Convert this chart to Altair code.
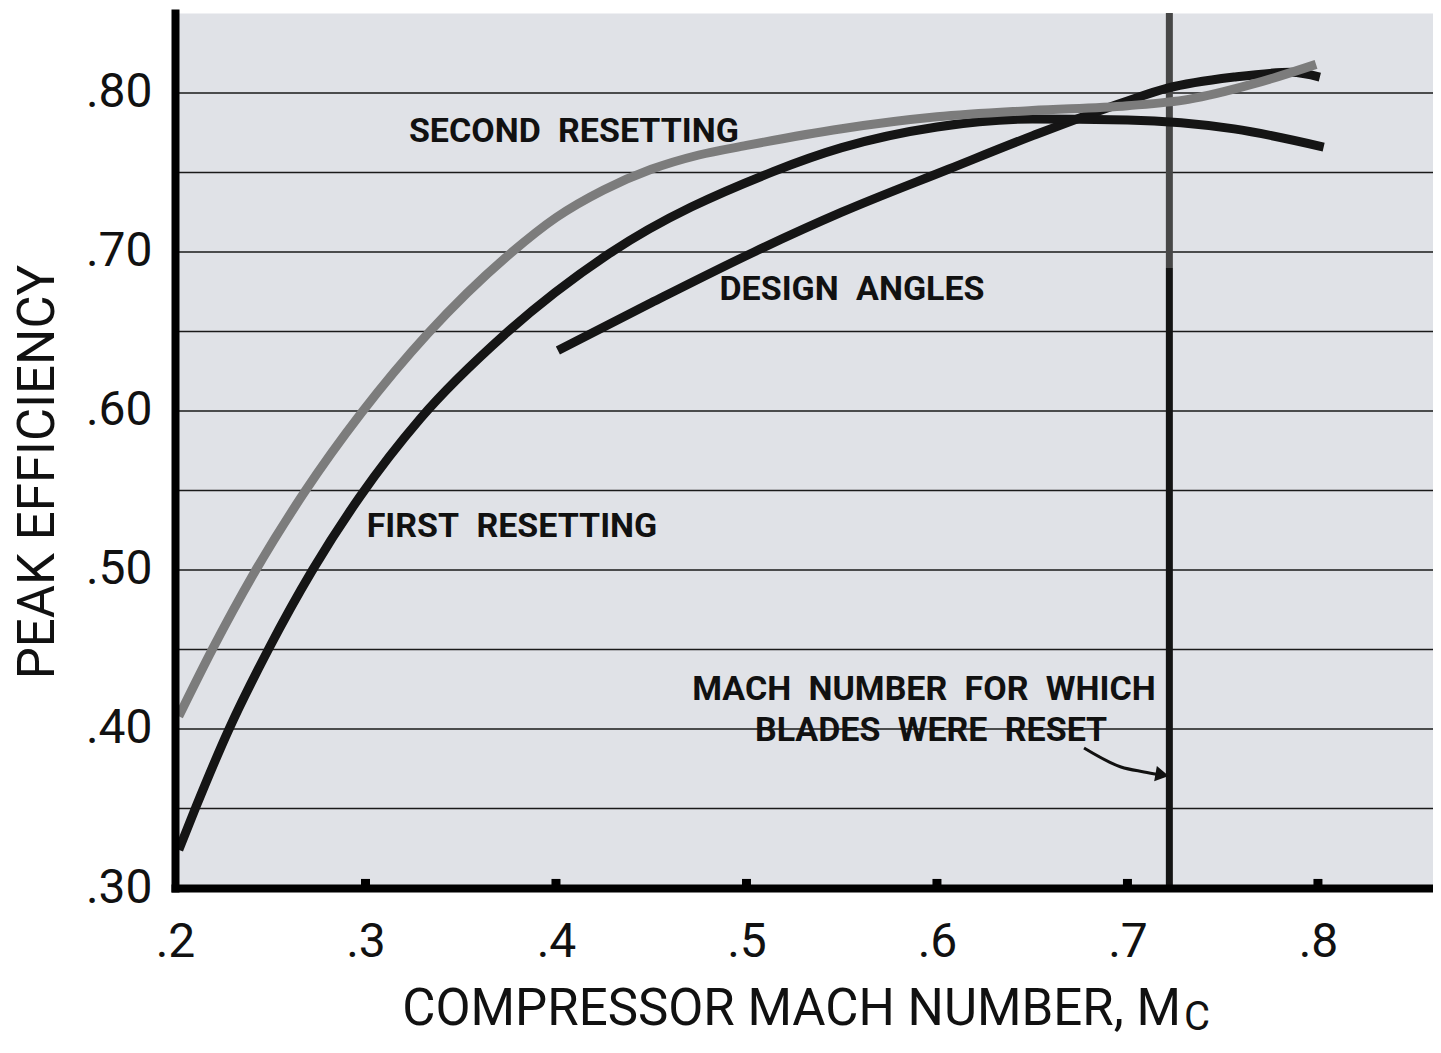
import altair as alt
import pandas as pd

# ---- data ----
second_x = [0.202, 0.220, 0.241, 0.268, 0.298, 0.333, 0.376, 0.400, 0.425, 0.450, 0.475, 0.500,
            0.550, 0.600, 0.650, 0.700, 0.732, 0.767, 0.799]
second_y = [0.408, 0.451, 0.497, 0.549, 0.599, 0.649, 0.699, 0.7216, 0.739, 0.752, 0.761, 0.767,
            0.7775, 0.785, 0.789, 0.792, 0.796, 0.806, 0.818]

first_x = [0.202, 0.211, 0.228, 0.249, 0.272, 0.297, 0.329, 0.373, 0.428, 0.514, 0.550, 0.600,
           0.650, 0.700, 0.756, 0.803]
first_y = [0.324, 0.351, 0.399, 0.450, 0.4996, 0.546, 0.5955, 0.648, 0.699, 0.7505, 0.7656, 0.7786,
           0.7836, 0.783, 0.7774, 0.766]

design_x = [0.401, 0.450, 0.504, 0.550, 0.606, 0.650, 0.700, 0.721, 0.756, 0.786, 0.801]
design_y = [0.638, 0.668, 0.700, 0.725, 0.752, 0.773, 0.795, 0.803, 0.810, 0.813, 0.810]

reset_mach = 0.722
grid_values = [0.35, 0.40, 0.45, 0.50, 0.55, 0.60, 0.65, 0.70, 0.75, 0.80]
x_ticks = [0.2, 0.3, 0.4, 0.5, 0.6, 0.7, 0.8]
x_stub_ticks = [0.3, 0.4, 0.5, 0.6, 0.7, 0.8]
y_ticks = [0.30, 0.40, 0.50, 0.60, 0.70, 0.80]

SP = "\u2002"
label_text = ["SECOND" + SP + "RESETTING", "DESIGN" + SP + "ANGLES", "FIRST" + SP + "RESETTING",
              "MACH" + SP + "NUMBER" + SP + "FOR" + SP + "WHICH",
              "BLADES" + SP + "WERE" + SP + "RESET"]
label_x = [0.4094, 0.5554, 0.3769, 0.5932, 0.5969]
label_y = [0.7755, 0.6761, 0.5270, 0.4245, 0.3987]

arrow_x = [0.6772, 0.6966, 0.7087, 0.7170]
arrow_y = [0.3880, 0.3761, 0.3730, 0.3712]

x_title = "COMPRESSOR MACH NUMBER, M"
x_title_sub = "C"
y_title = "PEAK EFFICIENCY"

X_DOM = [0.2, 0.8604]
Y_DOM = [0.30, 0.8503]

FONT = "Roboto"

# ---- tables ----
curves = pd.concat([
    pd.DataFrame({"x": design_x, "y": design_y, "s": "design"}),
    pd.DataFrame({"x": first_x, "y": first_y, "s": "first"}),
])
second = pd.DataFrame({"x": second_x, "y": second_y})
grid = pd.DataFrame({"y": grid_values})
stubs = pd.DataFrame({"x": x_stub_ticks, "y": [Y_DOM[0]] * len(x_stub_ticks),
                      "y2": [Y_DOM[0] + 0.0057] * len(x_stub_ticks)})
labels = pd.DataFrame({"t": label_text, "x": label_x, "y": label_y})
arrow = pd.DataFrame({"x": arrow_x, "y": arrow_y})
arrow_head = pd.DataFrame({"x": [arrow_x[-1] + 0.0012], "y": [arrow_y[-1]]})
vline_lo = pd.DataFrame({"x": [reset_mach], "y": [Y_DOM[0]], "y2": [0.69]})
vline_hi = pd.DataFrame({"x": [reset_mach], "y": [0.69], "y2": [Y_DOM[1]]})
xt = pd.DataFrame({"t": [x_title], "x": [0.7281], "y": [0.2233]})
xs = pd.DataFrame({"t": [x_title_sub], "x": [0.7297], "y": [0.2182]})
yt = pd.DataFrame({"t": [y_title], "x": [0.1288], "y": [0.5616]})

xscale = alt.Scale(domain=X_DOM, nice=False, zero=False)
yscale = alt.Scale(domain=Y_DOM, nice=False, zero=False)

x_axis = alt.Axis(values=x_ticks, labelExpr="replace(format(datum.value, '.1f'), '0.', '.')",
                  title="", grid=False, ticks=False, tickSize=0, domainColor="#000",
                  domainWidth=8, domainCap="square", labelFont=FONT, labelFontSize=48,
                  labelColor="#111", labelPadding=30, labelFlush=False,
                  labelOverlap=False, zindex=1)
y_axis = alt.Axis(values=y_ticks, labelExpr="replace(format(datum.value, '.2f'), '0.', '.')",
                  title="", grid=False, ticks=False, tickSize=0, domainColor="#000",
                  domainWidth=8, domainCap="square", labelFont=FONT, labelFontSize=48,
                  labelColor="#111", labelPadding=23, labelFlush=False,
                  labelOverlap=False, zindex=1)


def X(f="x"):
    return alt.X(f"{f}:Q", scale=xscale, axis=x_axis)


def Y(f="y"):
    return alt.Y(f"{f}:Q", scale=yscale, axis=y_axis)


grid_layer = alt.Chart(grid).mark_rule(color="#1a1a1a", strokeWidth=1.6).encode(
    y=Y(), x=alt.value(0), x2=alt.value(1258))

vlo = alt.Chart(vline_lo).mark_rule(color="#141414", strokeWidth=7).encode(
    x=X(), y=Y(), y2="y2:Q")
vhi = alt.Chart(vline_hi).mark_rule(color="#474747", strokeWidth=7).encode(
    x=X(), y=Y(), y2="y2:Q")

black_curves = alt.Chart(curves).mark_line(
    color="#151515", strokeWidth=9, interpolate="monotone", strokeCap="butt").encode(
    x=X(), y=Y(), detail="s:N", order="x:Q")

gray_curve = alt.Chart(second).mark_line(
    color="#7c7c7c", strokeWidth=9, interpolate="monotone", strokeCap="butt").encode(
    x=X(), y=Y(), order="x:Q")

stub_layer = alt.Chart(stubs).mark_rule(color="#000", strokeWidth=9).encode(
    x=X(), y=Y(), y2="y2:Q")

label_layer = alt.Chart(labels).mark_text(
    font=FONT, fontWeight="bold", fontSize=34, align="center", baseline="middle",
    color="#111").encode(x=X(), y=Y(), text="t:N")

arrow_line = alt.Chart(arrow).mark_line(color="#111", strokeWidth=3,
                                        interpolate="monotone").encode(
    x=X(), y=Y(), order="x:Q")
arrow_tip = alt.Chart(arrow_head).mark_point(
    shape="triangle-right", filled=True, color="#111", size=240, opacity=1,
    angle=10).encode(x=X(), y=Y())

xt_layer = alt.Chart(xt).mark_text(font=FONT, fontSize=51, align="right",
                                   baseline="middle", color="#111").encode(
    x=X(), y=Y(), text="t:N")
xs_layer = alt.Chart(xs).mark_text(font=FONT, fontSize=40, align="left",
                                   baseline="middle", color="#111").encode(
    x=X(), y=Y(), text="t:N")
yt_layer = alt.Chart(yt).mark_text(font=FONT, fontSize=51, align="center",
                                   baseline="middle", angle=270, color="#111").encode(
    x=X(), y=Y(), text="t:N")

chart = alt.layer(
    grid_layer, vlo, vhi, black_curves, gray_curve, stub_layer, label_layer,
    arrow_line, arrow_tip, xt_layer, xs_layer, yt_layer
).properties(
    width=1258, height=875,
    autosize=alt.AutoSizeParams(type="none"),
    padding={"left": 167, "top": 5, "right": 0, "bottom": 153},
    background="white",
).configure_view(fill="#e0e2e7", stroke="transparent")

chart.save("out.html", embed_options={"renderer": "svg", "actions": False})
